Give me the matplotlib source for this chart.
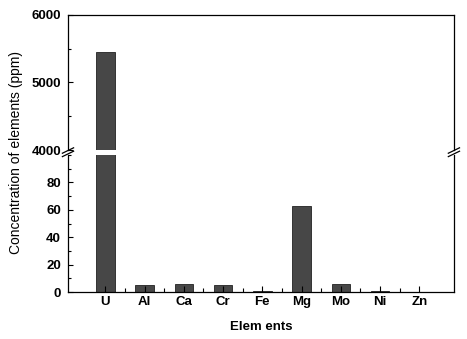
import matplotlib
matplotlib.use('Agg')
import matplotlib.pyplot as plt
import numpy as np

plt.rcParams.update({'font.size': 9, 'font.family': 'Liberation Sans'})

elements = ['U', 'Al', 'Ca', 'Cr', 'Fe', 'Mg', 'Mo', 'Ni', 'Zn']
conc = [5450, 5, 5.5, 5, 0.6, 63, 6, 0.6, 0.2]

fig = plt.figure(figsize=(4.67, 3.39), dpi=100)
ax_top = fig.add_axes([0.1456, 0.5575, 0.8264, 0.3983])
ax_bot = fig.add_axes([0.1456, 0.1386, 0.8264, 0.4042])

x = np.arange(len(elements))
for ax in (ax_top, ax_bot):
    ax.bar(x, conc, width=0.47, color='#474747', edgecolor='#222222', linewidth=0.6)
    ax.set_xlim(-0.95, 8.88)
    ax.tick_params(direction='in', which='both', width=0.8, labelsize=9.5)
    ax.tick_params(axis='y', pad=5)
    for s in ax.spines.values():
        s.set_linewidth(0.9)

ax_top.set_ylim(4000, 6000)
ax_top.set_yticks([4000, 5000, 6000])
ax_top.yaxis.set_minor_locator(matplotlib.ticker.MultipleLocator(500))
ax_top.spines['bottom'].set_visible(False)
ax_top.set_xticks([])
ax_top.tick_params(axis='y', which='both', right=False)

ax_bot.set_ylim(0, 100)
ax_bot.set_yticks([0, 20, 40, 60, 80])
ax_bot.yaxis.set_minor_locator(matplotlib.ticker.MultipleLocator(10))
ax_bot.spines['top'].set_visible(False)
ax_bot.set_xticks(x)
ax_bot.set_xticklabels(elements, fontweight='bold')
ax_bot.set_xticks(x[:-1] + 0.5, minor=True)
ax_bot.tick_params(axis='x', which='major', length=4, pad=3)
ax_bot.tick_params(axis='x', which='minor', length=3)

for ax in (ax_top, ax_bot):
    for lab in ax.get_yticklabels():
        lab.set_fontweight('bold')

# break marks on both spines
kw = dict(transform=fig.transFigure, color='k', clip_on=False, linewidth=0.9)
yb = 0.55
for xs in (0.1456, 0.972):
    for dy in (-0.004, 0.006):
        fig.add_artist(plt.Line2D([xs - 0.012, xs + 0.012], [yb + dy - 0.008, yb + dy + 0.008], **kw))

fig.text(0.035, 0.55, 'Concentration of elements (ppm)', rotation=90,
         ha='center', va='center', fontsize=10)
fig.text(0.56, 0.035, 'Elem ents', ha='center', va='center', fontsize=9.5,
         fontweight='bold')

plt.savefig('out.png', dpi=100)
